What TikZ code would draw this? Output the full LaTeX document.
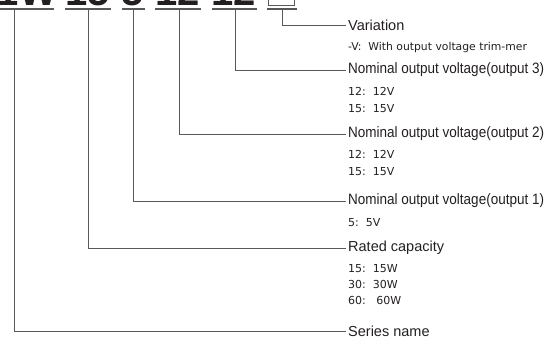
\documentclass[tikz,border=0pt]{standalone}
\usepackage{fontspec}
\setmainfont{Liberation Sans}
\newfontfamily\valfont{DejaVu Sans}
\definecolor{ink}{HTML}{231F20}
\definecolor{leadgray}{HTML}{58595B}

\begin{document}
\begin{tikzpicture}[x=1pt, y=-1pt,
    lead/.style={draw=leadgray, line width=0.9pt},
    bar/.style={draw=leadgray, line width=1.4pt},
    code/.style={anchor=base, inner sep=0pt, text=ink, font=\fontsize{40}{40}\selectfont\bfseries},
    head/.style={anchor=west, inner sep=2pt, text=ink, font=\fontsize{14.5}{16}\selectfont},
    narrow/.style={anchor=west, inner sep=2pt, text=ink, font=\fontsize{15}{16}\selectfont},
    vals/.style={anchor=base west, inner sep=0pt, align=left, text=ink, font=\valfont\fontsize{11}{16.5}\selectfont}]
    \useasboundingbox (0,0) rectangle (556,338);
    % model code (cut off at the top)
    \node[code] (c1) at (27,5) {1W};
    \node[code] (c2) at (88,5) {15};
    \node[code] (c3) at (133,5) {5};
    \node[code] (c4) at (178,5) {12};
    \node[code] (c5) at (234,5) {12};
    \node[draw=leadgray, line width=0.8pt, minimum width=26, minimum height=26, anchor=south] (c6) at (281,6) {};
    \draw[bar] (0,9) -- (54,9);
    \draw[bar] (65,9) -- (111,9);
    \draw[bar] (122,9) -- (145,9);
    \draw[bar] (155,9) -- (201,9);
    \draw[bar] (212,9) -- (257,9);
    \draw[bar] (267,9) -- (297,9);
    \coordinate (k1) at (14,9);
    \coordinate (k2) at (88,9);
    \coordinate (k3) at (133,9);
    \coordinate (k4) at (179,9);
    \coordinate (k5) at (235,9);
    \coordinate (k6) at (282,9);
    % descriptions (multi-line nodes sit on their last baseline)
    \node[head] (var) at (346,25) {Variation};
    \node[vals, font=\valfont\fontsize{10.8}{16}\selectfont] (varv) at (348,50) {-V:~~With output voltage trim-mer};
    \node[narrow] (out3) at (346,70) {\scalebox{0.9}[1]{Nominal output voltage(output 3)}};
    \node[vals] (out3v) at (348,112) {12:~~12V\\15:~~15V};
    \node[narrow] (out2) at (346,134) {\scalebox{0.9}[1]{Nominal output voltage(output 2)}};
    \node[vals] (out2v) at (348,175) {12:~~12V\\15:~~15V};
    \node[narrow] (out1) at (346,201) {\scalebox{0.9}[1]{Nominal output voltage(output 1)}};
    \node[vals] (out1v) at (348,226) {5:~~5V};
    \node[head] (cap) at (346,248) {Rated capacity};
    \node[vals, font=\valfont\fontsize{11}{16}\selectfont] (capv) at (348,304) {15:~~15W\\30:~~30W\\60:~~~60W};
    \node[head] (ser) at (346,331) {Series name};
    % leaders
    \draw[lead] (k1) |- (ser.west);
    \draw[lead] (k2) |- (cap.west);
    \draw[lead] (k3) |- (out1.west);
    \draw[lead] (k4) |- (out2.west);
    \draw[lead] (k5) |- (out3.west);
    \draw[lead] (k6) |- (var.west);
\end{tikzpicture}
\end{document}
